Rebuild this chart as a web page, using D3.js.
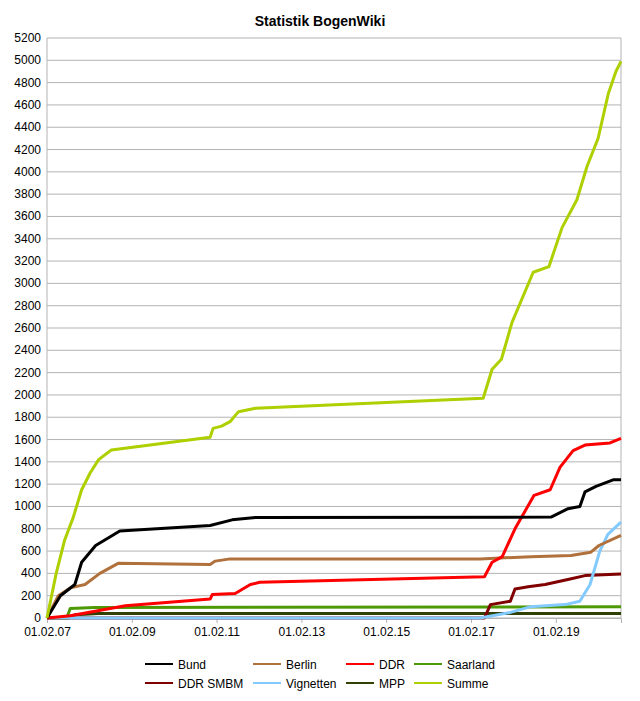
<!DOCTYPE html><html><head><meta charset="utf-8"><script src="https://cdn.jsdelivr.net/npm/d3@7"></script>
<style>body{margin:0;background:#fff}text{font-family:"Liberation Sans",Arial,sans-serif}</style></head><body>
<svg id="c" width="640" height="701"></svg>
<script>
const seriesNames=["Bund","Berlin","DDR","Saarland","DDR SMBM","Vignetten","MPP","Summe"];
const colors=["#000000","#b0713c","#ff0000","#4e9a06","#800000","#83caff","#314004","#aecf00"];
const bund=[[2007.083,0],[2007.4,200],[2007.74,300],[2007.9,500],[2008.23,650],[2008.8,780],[2010.93,830],[2011.45,880],[2012.0,900],[2018.97,905],[2019.37,980],[2019.65,1000],[2019.77,1130],[2020.03,1180],[2020.45,1240],[2020.62,1240]];
const berlin=[[2007.083,0],[2007.35,200],[2007.63,270],[2007.98,300],[2008.33,400],[2008.76,490],[2010.93,480],[2011.05,510],[2011.4,530],[2017.3,530],[2018.5,550],[2019.44,560],[2019.91,590],[2020.1,650],[2020.62,740]];
const ddr=[[2007.083,0],[2007.63,20],[2008.93,110],[2010.93,170],[2010.98,210],[2011.52,220],[2011.88,300],[2012.1,320],[2017.4,370],[2017.58,500],[2017.82,550],[2018.12,800],[2018.57,1100],[2018.95,1150],[2019.18,1350],[2019.49,1500],[2019.77,1550],[2020.36,1570],[2020.62,1610]];
const saarland=[[2007.083,0],[2007.55,0],[2007.63,85],[2008.2,95],[2020.62,100]];
const ddrSmbm=[[2007.083,0],[2017.4,0],[2017.54,120],[2018.01,150],[2018.12,260],[2018.43,280],[2018.83,300],[2019.42,350],[2019.77,380],[2020.62,395]];
const vignetten=[[2007.083,0],[2017.3,0],[2018.01,50],[2018.48,100],[2019.3,120],[2019.65,150],[2019.89,300],[2020.12,600],[2020.31,750],[2020.62,860]];
const mpp=[[2007.083,0],[2007.6,0],[2007.75,30],[2008.3,40],[2020.62,40]];
const summe=[[2007.083,0],[2007.3,400],[2007.5,700],[2007.7,900],[2007.9,1150],[2008.1,1300],[2008.3,1420],[2008.6,1506],[2010.93,1620],[2011.0,1700],[2011.2,1720],[2011.4,1760],[2011.6,1850],[2012.0,1880],[2017.37,1970],[2017.58,2230],[2017.8,2320],[2018.05,2650],[2018.55,3100],[2018.92,3150],[2019.23,3500],[2019.58,3750],[2019.82,4050],[2020.08,4300],[2020.32,4700],[2020.5,4900],[2020.62,4990]];
const allSeries=[bund,berlin,ddr,saarland,ddrSmbm,vignetten,mpp,summe];
const yTicks=d3.range(0,5201,200);
const xTicks=[2007.083,2009.083,2011.083,2013.083,2015.083,2017.083,2019.083];
const xLabels=["01.02.07","01.02.09","01.02.11","01.02.13","01.02.15","01.02.17","01.02.19"];

const svg=d3.select("#c");
const L=47,R=621,T=38,B=618;
const x=d3.scaleLinear().domain([2007.083,2020.62]).range([L,R]);
const y=d3.scaleLinear().domain([0,5200]).range([B,T]);
svg.append("text").attr("x",320).attr("y",26).attr("text-anchor","middle").attr("font-weight","bold").attr("font-size",14).text("Statistik BogenWiki");
svg.append("g").selectAll("line").data(yTicks).join("line").attr("x1",L).attr("x2",R).attr("y1",d=>y(d)).attr("y2",d=>y(d)).attr("stroke","#b3b3b3");
svg.append("line").attr("x1",L).attr("x2",L).attr("y1",T).attr("y2",B).attr("stroke","#b3b3b3");
svg.append("line").attr("x1",R).attr("x2",R).attr("y1",T).attr("y2",B).attr("stroke","#b3b3b3");
svg.append("g").selectAll("text").data(yTicks).join("text").attr("x",L-6).attr("y",d=>y(d)+4).attr("text-anchor","end").attr("font-size",12).text(d=>d);
const xa=svg.append("g").attr("transform",`translate(0,${B})`).call(d3.axisBottom(x).tickValues(xTicks).tickFormat((d,i)=>xLabels[i]).tickSize(5).tickPadding(4));
xa.select(".domain").attr("stroke","#b3b3b3");
xa.selectAll("line").attr("stroke","#b3b3b3");
xa.selectAll("text").attr("font-size",12).attr("font-family","Liberation Sans,Arial,sans-serif");
const line=d3.line().x(d=>x(d[0])).y(d=>y(d[1]));
const order=[6,3,4,5,1,2,0,7];
order.forEach(i=>svg.append("path").attr("d",line(allSeries[i])).attr("fill","none").attr("stroke",colors[i]).attr("stroke-width",3).attr("stroke-linejoin","round"));
const lx=[145,253,346,414];
seriesNames.forEach((n,i)=>{const r=Math.floor(i/4),c=i%4,yy=664+r*19;
svg.append("line").attr("x1",lx[c]).attr("x2",lx[c]+28).attr("y1",yy).attr("y2",yy).attr("stroke",colors[i]).attr("stroke-width",2);
svg.append("text").attr("x",lx[c]+33).attr("y",yy+4.5).attr("font-size",12).text(n);});
</script></body></html>
